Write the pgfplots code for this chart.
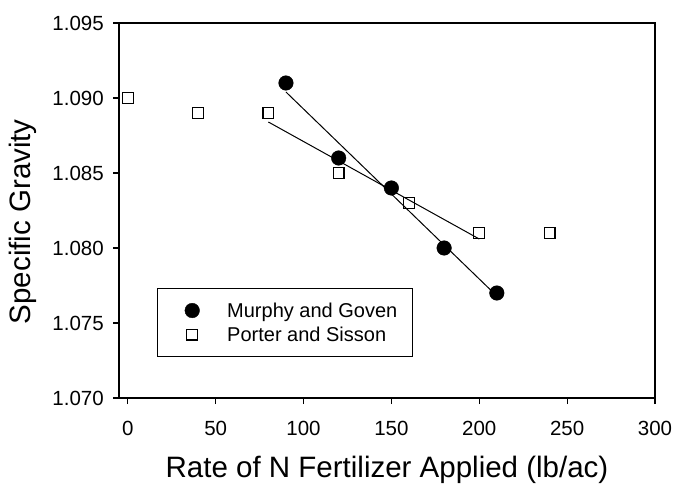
\documentclass[border=0pt]{standalone}
\usepackage{fontspec}
\setmainfont{Liberation Sans}
\usepackage{pgfplots}
\pgfplotsset{compat=1.18}
\begin{document}
\begin{tikzpicture}
\useasboundingbox (0,0) rectangle (676pt,483pt);
\begin{axis}[
  at={(119pt,85pt)}, anchor=south west,
  scale only axis, width=536pt, height=375pt,
  xmin=-5, xmax=300, ymin=1.070, ymax=1.095,
  xtick={0,50,100,150,200,250,300},
  ytick={1.070,1.075,1.080,1.085,1.090,1.095},
  scaled y ticks=false,
  tick align=outside, xtick pos=bottom, ytick pos=left,
  major tick length=6pt,
  tick style={line width=1.2pt, black},
  axis line style={line width=1.6pt},
  /pgf/number format/assume math mode=true,
  x tick label style={font=\fontsize{20.5}{24}\selectfont, anchor=north, inner sep=0pt, yshift=-17pt},
  y tick label style={font=\fontsize{20.5}{24}\selectfont, anchor=east, inner sep=0pt, xshift=-9pt,
     /pgf/number format/.cd, fixed, fixed zerofill, precision=3, /tikz/.cd},
  xlabel={Rate of N Fertilizer Applied (lb/ac)},
  ylabel={Specific Gravity},
  every axis x label/.style={at={(axis description cs:0.5,-0.2133)}, anchor=base,
     font=\fontsize{29.5}{35}\selectfont},
  every axis y label/.style={at={(axis description cs:-0.1642,0.47)}, rotate=90, anchor=base,
     font=\fontsize{29.5}{35}\selectfont},
  legend style={at={(axis description cs:0.0709,0.1093)}, anchor=south west,
    draw=black, line width=1pt, inner xsep=14.7pt, inner ysep=14pt, row sep=8pt,
    font=\fontsize{20}{24}\selectfont, nodes={inner sep=0pt},
    /tikz/every odd column/.append style={column sep=15pt}},
  legend cell align=left,
  legend image code/.code={\path[draw=none,fill=none] (0pt,-5pt) rectangle (40pt,5pt); \draw[#1] plot coordinates {(20pt,0pt)};},
]
\addplot[black, line width=1pt, forget plot] coordinates {(90,1.0904) (210,1.0768)};
\addplot[black, line width=1pt, forget plot] coordinates {(80,1.0884) (200,1.0806)};
\addplot[only marks, mark=*, mark size=7.3pt, mark options={fill=black, draw=black, line width=0.4pt}]
  coordinates {(90,1.091) (120,1.086) (150,1.084) (180,1.080) (210,1.077)};
\addplot[only marks, mark=square, mark size=5.4pt, mark options={draw=black, line width=1.2pt, fill=none}]
  coordinates {(0,1.090) (40,1.089) (80,1.089) (120,1.085) (160,1.083) (200,1.081) (240,1.081)};
\legend{Murphy and Goven, Porter and Sisson}
\end{axis}
\end{tikzpicture}
\end{document}
